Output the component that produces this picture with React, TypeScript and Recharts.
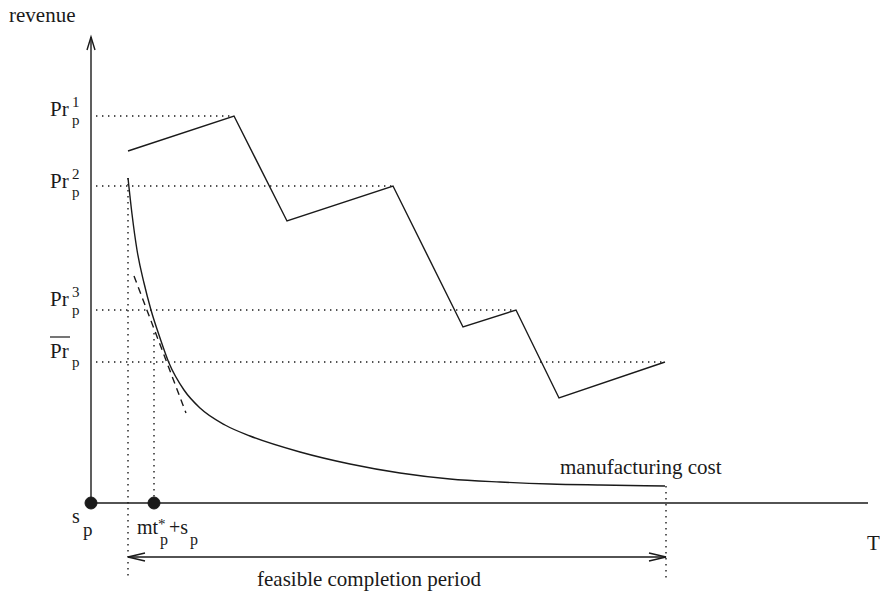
import {
  ComposedChart,
  Line,
  XAxis,
  YAxis,
  ReferenceLine,
  ReferenceDot,
  Customized,
} from "recharts";

const INK = "#1a1a1a";
const SERIF = "'Liberation Serif', 'Times New Roman', Times, serif";
const DOTTED = "1.4 4.6";
const FONT_STYLE = { fontFamily: SERIF };

// frame: T runs right from s_p, revenue runs up (units ~ px of the original figure)
const T_END = 777;
const REV_END = 466;

// revenue path of the price schedule
const revenueT = [37, 143, 196, 302, 372, 425, 468, 574];
const revenueV = [352, 387, 282, 317, 176, 193, 105, 141];

// price levels Pr^1, Pr^2, Pr^3, Pr-bar and where each guide stops
const priceLevels = [387, 317, 193, 141];
const priceReach = [143, 302, 425, 574];
const priceSup = ["1", "2", "3", ""];

// manufacturing cost curve
const costT = [37, 41, 46, 53, 60, 69, 78, 93, 109, 134, 159, 209, 259, 309, 359, 409, 459, 509, 574];
const costV = [325, 289, 253, 220, 193, 165, 140, 113, 95, 78, 67, 51, 39, 30, 24, 21, 19, 18, 17];

// tangent (dashed) near the optimal point
const tangentT = [43, 95];
const tangentV = [227, 90];

const startT = 0; // s_p
const optimalT = 63; // mt*_p + s_p
const optimalCost = 170;
const feasibleFrom = 37;
const feasibleTo = 575;
const feasibleLevel = -54;
const guideBottom = -77;
const finalCost = 17;
const guideStart = 5;

const toPts = (ts: number[], vs: number[]) => ts.map((t, i) => ({ t, v: vs[i] }));

const revenueData = toPts(revenueT, revenueV);
const costData = toPts(costT, costV);
const tangentData = toPts(tangentT, tangentV);

// open arrow heads
const yArrow = [
  { t: -4, v: REV_END - 13 },
  { t: 0, v: REV_END },
  { t: 4, v: REV_END - 13 },
];
const leftArrow = [
  { t: feasibleFrom + 17, v: feasibleLevel + 4 },
  { t: feasibleFrom, v: feasibleLevel },
  { t: feasibleFrom + 17, v: feasibleLevel - 4 },
];
const rightArrow = [
  { t: feasibleTo - 17, v: feasibleLevel + 4 },
  { t: feasibleTo, v: feasibleLevel },
  { t: feasibleTo - 17, v: feasibleLevel - 4 },
];

const LABEL_DY = [0, 2, -4, -4];

type VB = { x: number; y: number; width: number; height: number };

function PriceLabel(props: { viewBox?: VB; sup?: string; dy?: number }) {
  const { viewBox, sup, dy = 0 } = props;
  if (!viewBox) return null;
  const x = viewBox.x - 46;
  const y = viewBox.y + dy;
  return (
    <g style={FONT_STYLE} fill={INK}>
      <text x={x} y={y} fontSize={21}>
        Pr
      </text>
      {sup ? (
        <text x={x + 22} y={y - 9} fontSize={15}>
          {sup}
        </text>
      ) : (
        <line x1={x} x2={x + 20} y1={y - 21} y2={y - 21} stroke={INK} strokeWidth={1.2} />
      )}
      <text x={x + 22} y={y + 9} fontSize={15}>
        p
      </text>
    </g>
  );
}

function StartLabel(props: { viewBox?: VB }) {
  const vb = props.viewBox;
  if (!vb) return null;
  const cx = vb.x + vb.width / 2;
  const cy = vb.y + vb.height / 2;
  return (
    <g style={FONT_STYLE} fill={INK}>
      <text x={cx - 19} y={cy + 20} fontSize={20}>s</text>
      <text x={cx - 8} y={cy + 33} fontSize={19}>p</text>
    </g>
  );
}

function OptimalLabel(props: { viewBox?: VB }) {
  const vb = props.viewBox;
  if (!vb) return null;
  const cx = vb.x + vb.width / 2;
  const cy = vb.y + vb.height / 2;
  return (
    <g style={FONT_STYLE} fill={INK}>
      <text x={cx - 17} y={cy + 31} fontSize={20}>mt</text>
      <text x={cx + 4} y={cy + 26} fontSize={15}>*</text>
      <text x={cx + 6} y={cy + 42} fontSize={16}>p</text>
      <text x={cx + 15} y={cy + 31} fontSize={20}>+s</text>
      <text x={cx + 36} y={cy + 42} fontSize={16}>p</text>
    </g>
  );
}

function PeriodLabel(props: { viewBox?: VB }) {
  const vb = props.viewBox;
  if (!vb) return null;
  return (
    <text x={vb.x + 129} y={vb.y + 29} style={FONT_STYLE} fontSize={21} fill={INK}>
      feasible completion period
    </text>
  );
}

const lineProps = {
  dataKey: "v",
  stroke: INK,
  strokeWidth: 1.4,
  dot: false,
  activeDot: false,
  isAnimationActive: false,
  legendType: "none" as const,
};

export default function App() {
  return (
    <div style={{ position: "absolute", left: 0, top: 0, width: 880, height: 592, background: "#fff" }}>
      <ComposedChart width={880} height={592} margin={{ top: 0, right: 0, bottom: 0, left: 0 }}>
        <XAxis type="number" dataKey="t" domain={[-91, 789]} allowDataOverflow hide />
        <YAxis type="number" domain={[-89, 503]} allowDataOverflow hide />

        {/* axes */}
        <ReferenceLine segment={[{ x: 0, y: 0 }, { x: T_END, y: 0 }]} stroke={INK} strokeWidth={1.4} />
        <ReferenceLine segment={[{ x: 0, y: 0 }, { x: 0, y: REV_END }]} stroke={INK} strokeWidth={1.4} />

        {/* price level guides */}
        {priceLevels.map((lv, i) => (
          <ReferenceLine
            key={`pr-${i}`}
            segment={[{ x: guideStart, y: lv }, { x: priceReach[i], y: lv }]}
            stroke={INK}
            strokeWidth={1.4}
            strokeDasharray={DOTTED}
            label={<PriceLabel sup={priceSup[i]} dy={LABEL_DY[i]} />}
          />
        ))}

        {/* vertical guides */}
        <ReferenceLine
          segment={[{ x: feasibleFrom, y: costV[0] }, { x: feasibleFrom, y: guideBottom }]}
          stroke={INK}
          strokeWidth={1.4}
          strokeDasharray={DOTTED}
        />
        <ReferenceLine
          segment={[{ x: optimalT, y: optimalCost }, { x: optimalT, y: 0 }]}
          stroke={INK}
          strokeWidth={1.4}
          strokeDasharray={DOTTED}
        />
        <ReferenceLine
          segment={[{ x: feasibleTo, y: finalCost }, { x: feasibleTo, y: guideBottom }]}
          stroke={INK}
          strokeWidth={1.4}
          strokeDasharray={DOTTED}
        />

        {/* feasible completion period */}
        <ReferenceLine
          segment={[{ x: feasibleFrom, y: feasibleLevel }, { x: feasibleTo, y: feasibleLevel }]}
          stroke={INK}
          strokeWidth={1.4}
          label={<PeriodLabel />}
        />

        <Line {...lineProps} data={revenueData} type="linear" />
        <Line {...lineProps} data={costData} type="monotone" />
        <Line {...lineProps} data={tangentData} type="linear" strokeDasharray="7 5" />
        <Line {...lineProps} data={yArrow} type="linear" />
        <Line {...lineProps} data={leftArrow} type="linear" />
        <Line {...lineProps} data={rightArrow} type="linear" />

        <ReferenceDot x={startT} y={0} r={6} fill={INK} stroke={INK} label={<StartLabel />} />
        <ReferenceDot x={optimalT} y={0} r={6} fill={INK} stroke={INK} label={<OptimalLabel />} />

        <Customized
          component={
            <g style={FONT_STYLE} fill={INK} fontSize={21}>
              <text x={9} y={22}>revenue</text>
              <text x={867} y={550}>T</text>
              <text x={560} y={474}>manufacturing cost</text>
            </g>
          }
        />
      </ComposedChart>
    </div>
  );
}
